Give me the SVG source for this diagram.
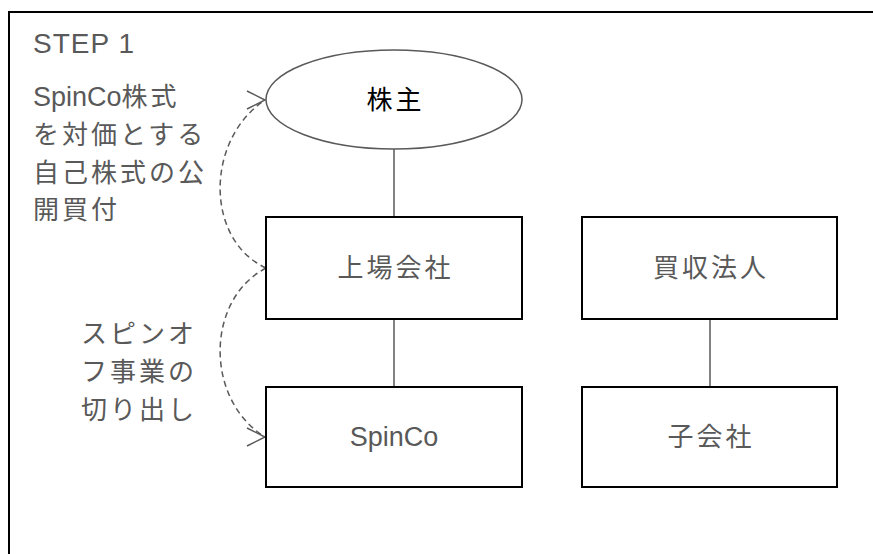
<svg xmlns="http://www.w3.org/2000/svg" width="873" height="554" viewBox="0 0 873 554">
<style>
.t{font-family:"Liberation Sans","Noto Sans CJK JP",sans-serif;font-size:26px;letter-spacing:3px;fill:#595959}
.lat{font-size:27px;letter-spacing:0px}
.box{fill:#ffffff;stroke:#000000;stroke-width:2}
.ln{stroke:#595959;stroke-width:1.5;fill:none}
.dash{stroke:#595959;stroke-width:1.5;fill:none;stroke-dasharray:6 4}
</style>
<defs>
<marker id="chev" markerUnits="userSpaceOnUse" orient="0" refX="0" refY="0" markerWidth="20" markerHeight="20" overflow="visible">
<path d="M-18,-9 L0,0 L-18,9" fill="none" stroke="#595959" stroke-width="1.5"/>
</marker>
</defs>
<rect x="9" y="12" width="880" height="560" fill="#ffffff" stroke="#000000" stroke-width="2"/>
<text class="t" x="33" y="53" style="font-size:28px;letter-spacing:1px">STEP 1</text>
<text class="t" dominant-baseline="central">
<tspan x="33" y="97" class="lat">SpinCo</tspan><tspan>株式</tspan>
<tspan x="33" y="135">を対価とする</tspan>
<tspan x="33" y="173">自己株式の公</tspan>
<tspan x="33" y="210">開買付</tspan>
</text>
<text class="t" dominant-baseline="central">
<tspan x="81" y="334">スピンオ</tspan>
<tspan x="81" y="372">フ事業の</tspan>
<tspan x="81" y="410">切り出し</tspan>
</text>
<g id="connectors">
<line class="ln" x1="394" y1="149" x2="394" y2="217"/>
<line class="ln" x1="394" y1="319" x2="394" y2="387"/>
<line class="ln" x1="710" y1="319" x2="710" y2="387"/>
<path class="dash" d="M266,268 C205,240 205,140 265,100" marker-end="url(#chev)"/>
<path class="dash" d="M266,268 C205,300 205,400 265,437" marker-end="url(#chev)"/>
</g>
<g id="shareholders">
<ellipse cx="394" cy="99.5" rx="128" ry="49.5" fill="#ffffff" stroke="#595959" stroke-width="1.5"/>
<text class="t" x="395.5" y="99.5" text-anchor="middle" dominant-baseline="central" style="fill:#000000">株主</text>
</g>
<g id="listed">
<rect class="box" x="266" y="217" width="256" height="102"/>
<text class="t" x="395.5" y="268" text-anchor="middle" dominant-baseline="central">上場会社</text>
</g>
<g id="spinco">
<rect class="box" x="266" y="387" width="256" height="100"/>
<text class="t lat" x="394" y="437" text-anchor="middle" dominant-baseline="central">SpinCo</text>
</g>
<g id="acquirer">
<rect class="box" x="582" y="217" width="255" height="102"/>
<text class="t" x="711" y="268" text-anchor="middle" dominant-baseline="central">買収法人</text>
</g>
<g id="subsidiary">
<rect class="box" x="582" y="387" width="255" height="100"/>
<text class="t" x="711" y="437" text-anchor="middle" dominant-baseline="central">子会社</text>
</g>
</svg>
